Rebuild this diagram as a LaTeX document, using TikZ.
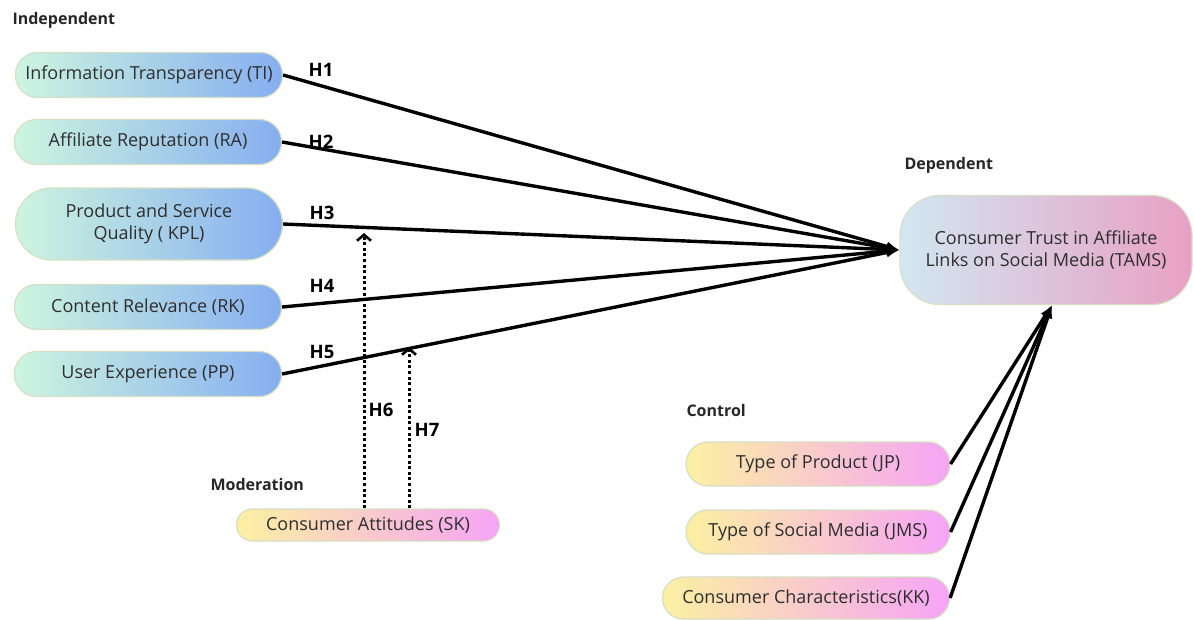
\documentclass[tikz,border=0pt]{standalone}
\usepackage{fontspec}
\setmainfont{Open Sans}
\usepackage{tikz}
\usetikzlibrary{shapes,arrows,arrows.meta}
\usetikzlibrary{positioning}
\definecolor{mint}{HTML}{CDF5DF}
\definecolor{skyblue}{HTML}{86AEF0}
\definecolor{paleyel}{HTML}{FBF0A2}
\definecolor{orchid}{HTML}{F6A4F6}
\definecolor{paleblue}{HTML}{D2E7F1}
\definecolor{blush}{HTML}{F8DCDC}
\definecolor{rosy}{HTML}{E8A0C4}
\definecolor{rimline}{HTML}{D6DEC4}
\definecolor{inktext}{HTML}{2E2E2E}
\tikzset{auto, >={Latex[length=13pt,width=10pt]}, x=1pt, y=-1pt, font=\fontsize{18}{22}\selectfont}
\tikzstyle{indep} = [draw=rimline, line width=1.2pt, rectangle, rounded corners=22pt, left color=mint, right color=skyblue, minimum width=267pt, minimum height=45pt, text=inktext, align=center]
\tikzstyle{ctrl} = [draw=rimline, line width=1.2pt, rectangle, rounded corners=22pt, left color=paleyel, right color=orchid, minimum width=264pt, minimum height=44pt, text=inktext, align=center]
\tikzstyle{dep} = [draw=rimline, line width=1.2pt, rectangle, rounded corners=40pt, left color=paleblue, middle color=blush, right color=rosy, minimum width=292pt, minimum height=109pt, text=inktext, align=center]
\tikzstyle{title} = [anchor=west, font=\fontsize{16}{18}\bfseries\selectfont, text=black!85]
\tikzstyle{hlab} = [font=\fontsize{18.5}{20}\bfseries\selectfont]
\tikzstyle{link} = [draw, line width=3.4pt, ->]
\tikzstyle{moder} = [draw, line width=3pt, dash pattern=on 3pt off 2.6pt, -{Straight Barb[length=6pt,width=14pt,line width=2.6pt]}]

\begin{document}
\begin{tikzpicture}
		\useasboundingbox (0,0) rectangle (1194,619);
		\node [title] (indeptitle) at (9,20) {Independent};
		\node [indep] (TI) at (149,75) {Information Transparency (TI)};
		\node [indep] (RA) at (148,142) {Affiliate Reputation (RA)};
		\node [indep, minimum height=72pt, rounded corners=36pt] (KPL) at (149,224) {Product and Service\\Quality ( KPL)};
		\node [indep] (RK) at (148,307) {Content Relevance (RK)};
		\node [indep] (PP) at (148,374) {User Experience (PP)};

		\node [title] (deptitle) at (901,165) {Dependent};
		\node [dep] (TAMS) at (1046,250) {Consumer Trust in Affiliate\\Links on Social Media (TAMS)};

		\node [title] (modtitle) at (207,484) {Moderation};
		\node [ctrl, minimum width=263pt, minimum height=32pt, rounded corners=16pt] (SK) at (368,525) {Consumer Attitudes (SK)};

		\node [title] (ctrltitle) at (683,410) {Control};
		\node [ctrl] (JP) at (818,464) {Type of Product (JP)};
		\node [ctrl] (JMS) at (818,532) {Type of Social Media (JMS)};
		\node [ctrl, minimum width=287pt, minimum height=42pt, rounded corners=21pt] (KK) at (806,598) {Consumer Characteristics(KK)};

		\node [hlab] (h1) at (321,70) {H1};
		\node [hlab] (h2) at (321,142) {H2};
		\node [hlab] (h3) at (322,213) {H3};
		\node [hlab] (h4) at (322,286) {H4};
		\node [hlab] (h5) at (322,352) {H5};
		\node [hlab] (h6) at (381,410) {H6};
		\node [hlab] (h7) at (427,430) {H7};

		\coordinate (m6) at (364,233);
		\coordinate (m7) at (409,347);

		\draw [link] (TI.east) -- (TAMS.west);
		\draw [link] (RA.east) -- (TAMS.west);
		\draw [link] (KPL.east) -- (TAMS.west);
		\draw [link] (RK.east) -- (TAMS.west);
		\draw [link] (PP.east) -- (TAMS.west);
		\draw [moder] (SK.north -| m6) -- (m6);
		\draw [moder] (SK.north -| m7) -- (m7);
		\draw [link] (JP.east) -- ([xshift=6pt]TAMS.south);
		\draw [link] (JMS.east) -- ([xshift=6pt]TAMS.south);
		\draw [link] (KK.east) -- ([xshift=6pt]TAMS.south);
	\end{tikzpicture}
\end{document}
